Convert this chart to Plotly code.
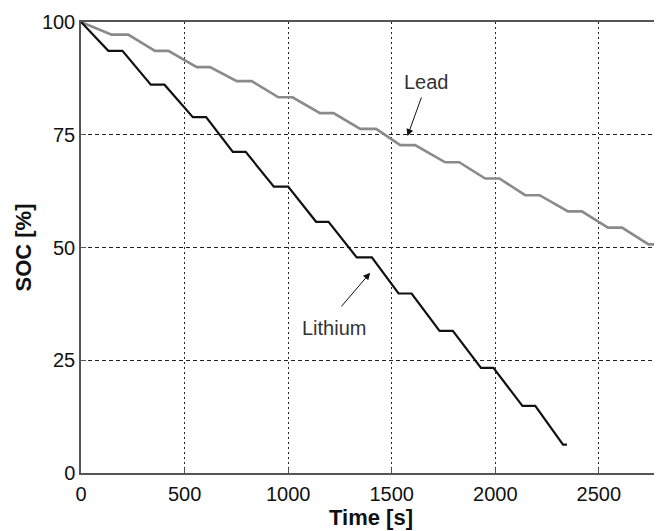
import plotly.graph_objects as go

# Lithium battery SOC (stepped discharge)
li_t = [0, 132, 200, 337, 403, 540, 604, 733, 795, 931, 1000, 1135, 1195,
        1331, 1404, 1533, 1596, 1731, 1795, 1931, 1991, 2131, 2193, 2327, 2346]
li_soc = [100, 93.6, 93.6, 86.1, 86.1, 78.9, 78.9, 71.2, 71.2, 63.5, 63.5,
          55.7, 55.7, 47.8, 47.8, 39.8, 39.8, 31.5, 31.5, 23.3, 23.3,
          14.9, 14.9, 6.3, 6.3]

# Lead battery SOC
pb_t = [0, 148, 228, 357, 422, 559, 623, 752, 824, 953, 1021, 1154, 1219,
        1348, 1425, 1541, 1613, 1758, 1826, 1951, 2020, 2144, 2214, 2351,
        2418, 2544, 2612, 2740, 2800]
pb_soc = [100, 97.2, 97.2, 93.6, 93.6, 90.0, 90.0, 86.9, 86.9, 83.3, 83.3,
          79.8, 79.8, 76.3, 76.3, 72.7, 72.7, 68.9, 68.9, 65.3, 65.3,
          61.6, 61.6, 58.0, 58.0, 54.4, 54.4, 50.7, 50.7]

x_ticks = [0, 500, 1000, 1500, 2000, 2500]
y_ticks = [0, 25, 50, 75, 100]

FONT = "Liberation Sans, Arial, sans-serif"

fig = go.Figure()
fig.add_trace(go.Scatter(x=pb_t, y=pb_soc, mode="lines",
                         line=dict(color="#8a8a8a", width=2.6), name="Lead"))
fig.add_trace(go.Scatter(x=li_t, y=li_soc, mode="lines",
                         line=dict(color="#111111", width=2.2), name="Lithium"))

# Labels with arrows
fig.add_annotation(x=1576, y=74.7, ax=1646, ay=83.6, axref="x", ayref="y",
                   text="", showarrow=True, arrowhead=2, arrowsize=1.4,
                   arrowwidth=1, arrowcolor="#111111")
fig.add_annotation(x=1670, y=86.7, text="Lead", showarrow=False,
                   font=dict(family=FONT, size=20, color="#333333"))
fig.add_annotation(x=1396, y=44.4, ax=1251, ay=36.6, axref="x", ayref="y",
                   text="", showarrow=True, arrowhead=2, arrowsize=1.4,
                   arrowwidth=1, arrowcolor="#111111")
fig.add_annotation(x=1219, y=32.1, text="Lithium", showarrow=False,
                   font=dict(family=FONT, size=20, color="#333333"))

# the page adds an 8px body margin, so the figure is sized to fit inside
fig.update_layout(
    width=654, height=523,
    margin=dict(l=73, r=1, t=14, b=58),
    paper_bgcolor="white", plot_bgcolor="white",
    showlegend=False,
    font=dict(family=FONT, size=20, color="#111111"),
)
fig.update_xaxes(
    range=[0, 2800], tickvals=x_ticks, ticktext=[str(v) for v in x_ticks],
    showgrid=True, gridcolor="#222222", gridwidth=1, griddash="2px,3px",
    showline=True, linecolor="#555555", linewidth=1.5, mirror=True,
    ticks="inside", ticklen=5, tickcolor="#555555",
    zeroline=False, automargin=False,
    title=dict(text="<b>Time [s]</b>", font=dict(size=22), standoff=4),
    tickfont=dict(size=20), ticklabelstandoff=2,
)
fig.update_yaxes(
    range=[0, 100], tickvals=y_ticks, ticktext=[str(v) for v in y_ticks],
    showgrid=True, gridcolor="#222222", gridwidth=1, griddash="4px,3px",
    showline=True, linecolor="#555555", linewidth=1.5, mirror=True,
    ticks="inside", ticklen=5, tickcolor="#555555",
    zeroline=False, automargin=False,
    title=dict(text="<b>SOC [%]</b>", font=dict(size=22), standoff=4),
    tickfont=dict(size=20),
)

fig.write_html("out.html")
